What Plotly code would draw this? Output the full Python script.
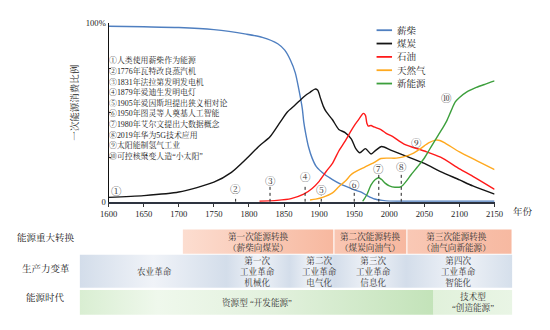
import plotly.graph_objects as go

# ---------------- data ----------------
series_names = ["薪柴", "煤炭", "石油", "天然气", "新能源"]

years_fuelwood = [1600, 1650, 1700, 1750, 1796, 1819, 1841, 1851, 1859, 1866, 1871, 1876, 1878, 1881,
                  1885, 1890, 1896, 1908, 1919, 1930, 1941, 1951, 1960, 1969, 1979, 1990, 2000, 2050, 2100, 2150]
fuelwood = [98.4, 98.1, 97.7, 96.5, 94.0, 92.2, 88.6, 85.0, 79.5, 72.3, 63.2, 52.3, 45.0, 38.0,
            30.6, 24.5, 19.7, 15.3, 12.5, 10.1, 8.2, 6.6, 5.4, 3.4, 1.6, 0.8, 0.4, 0.3, 0.3, 0.3]

years_coal = [1600, 1650, 1700, 1750, 1775, 1796, 1815, 1830, 1845, 1855, 1865, 1873, 1880, 1887, 1894,
              1898, 1902, 1906, 1910, 1919, 1928, 1937, 1946, 1952, 1958, 1966, 1974, 1981, 1989, 2002,
              2021, 2050, 2073, 2100, 2119, 2150]
coal = [2.5, 3.5, 5.5, 11.0, 16.5, 24.0, 31.5, 36.5, 45.0, 50.5, 54.0, 57.0, 59.5, 61.4, 63.2,
        62.5, 58.0, 53.5, 50.5, 46.0, 40.6, 38.8, 35.2, 30.0, 27.5, 29.8, 26.8, 29.0, 31.0, 29.0,
        26.0, 21.5, 17.0, 12.3, 8.9, 4.3]

years_oil = [1815, 1840, 1860, 1878, 1890, 1900, 1910, 1919, 1928, 1937, 1945, 1951, 1957, 1963, 1966,
             1968, 1970, 1974, 1978, 1988, 1995, 2005, 2021, 2050, 2073, 2100, 2119, 2150]
oil = [0.3, 0.8, 1.8, 4.3, 7.5, 11.5, 17.0, 21.6, 28.5, 34.0, 39.5, 43.3, 46.5, 49.6, 48.5,
       44.0, 42.5, 42.8, 42.0, 40.5, 38.5, 36.5, 32.4, 28.5, 25.0, 18.5, 14.3, 7.0]

years_gas = [1887, 1895, 1905, 1919, 1928, 1937, 1945, 1950, 1965, 1978, 1988, 1998, 2010, 2020, 2033,
             2045, 2056, 2066, 2072, 2080, 2100, 2125, 2150]
gas = [1.0, 1.5, 2.5, 5.0, 8.5, 11.5, 15.0, 16.5, 19.5, 22.0, 24.3, 24.5, 24.5, 25.2, 27.0,
       30.0, 33.0, 34.6, 34.4, 32.8, 28.0, 23.0, 18.0]

years_new = [1962, 1968, 1974, 1980, 1985, 1989, 1994, 2000, 2008, 2017, 2024, 2031, 2040, 2049, 2056,
             2063, 2070, 2077, 2082, 2088, 2094, 2100, 2110, 2124, 2137, 2150]
new_energy = [0.3, 4.0, 9.5, 12.5, 13.5, 12.5, 10.5, 9.0, 8.2, 8.6, 11.5, 15.2, 19.5, 24.0, 28.5,
              33.0, 37.5, 42.0, 45.5, 51.0, 56.0, 58.5, 61.5, 64.1, 66.0, 67.8]

# milestones: circled label, year, label height (%), dotted line top (%)
milestone_labels = ["②", "③", "④", "⑤", "⑥", "⑦", "⑧"]
milestone_years = [1781, 1830, 1880, 1903, 1950, 1985, 2017]
milestone_label_vals = [7.1, 11.6, 13.4, 6.3, 9.2, 18.0, 19.0]
milestone_line_tops = [3.4, 8.5, 9.5, 3.6, 6.3, 15.2, 15.8]

free_labels = ["①", "⑨", "⑩"]
free_label_years = [1611, 2039, 2081]
free_label_vals = [5.6, 32.8, 57.8]

event_texts = [
    "①人类使用薪柴作为能源",
    "②1776年瓦特改良蒸汽机",
    "③1831年法拉第发明发电机",
    "④1879年爱迪生发明电灯",
    "⑤1905年爱因斯坦提出狭义相对论",
    "⑥1950年图灵等人奠基人工智能",
    "⑦1980年艾尔文提出大数据概念",
    "⑧2019年华为5G技术应用",
    "⑨太阳能制氢气工业",
    "⑩可控核聚变人造“小太阳”",
]

x_ticks = list(range(1600, 2151, 50))

row_titles = ["能源重大转换", "生产力变革", "能源时代"]

transition_bounds = [1705, 1921, 2025, 2175]
transition_labels = ["第一次能源转换<br>（薪柴向煤炭）", "第二次能源转换<br>（煤炭向油气）",
                     "第三次能源转换<br>（油气向新能源）"]

revolution_bounds = [1559, 1768, 1858, 1922, 2024, 2175]
revolution_labels = ["农业革命", "第一次<br>工业革命<br>机械化", "第二次<br>工业革命<br>电气化",
                     "第三次<br>工业革命<br>信息化", "第四次<br>工业革命<br>智能化"]

era_bounds = [1559, 2063, 2175]
era_labels = ["资源型 “开发能源”", "技术型<br>“创造能源”"]

# ---------------- style / layout constants ----------------
W, H = 550, 330
FONT = "'Liberation Serif', 'Noto Serif CJK SC', 'Noto Sans CJK SC', serif"
colors = ["#4f7fc0", "#151515", "#ff1a1a", "#ffa91f", "#3c9f3c"]
X_PX = (103, 502)      # pixel span of 1600..2150
Y_PX = (203, 19)       # pixel span of 0..100 %
XMIN, XMAX = 1600, 2150


def pxx(p):
    return p / W


def pxy(p):
    return 1 - p / H


yrs_per_px = (XMAX - XMIN) / (X_PX[1] - X_PX[0])
x2_range = [XMIN - X_PX[0] * yrs_per_px, XMIN + (W - X_PX[0]) * yrs_per_px]

fig = go.Figure()

all_years = [years_fuelwood, years_coal, years_oil, years_gas, years_new]
all_vals = [fuelwood, coal, oil, gas, new_energy]
for name, xs, ys, c in zip(series_names, all_years, all_vals, colors):
    fig.add_trace(go.Scatter(x=xs, y=ys, name=name, mode="lines",
                             line=dict(color=c, width=1.4, shape="spline", smoothing=0.7),
                             showlegend=False, hoverinfo="skip"))

for yr, top in zip(milestone_years, milestone_line_tops):
    fig.add_trace(go.Scatter(x=[yr, yr], y=[0, top], mode="lines",
                             line=dict(color="#222", width=1, dash="dot"),
                             showlegend=False, hoverinfo="skip"))

annotations = []


def ann(**kw):
    kw.setdefault("showarrow", False)
    kw.setdefault("xanchor", "center")
    kw.setdefault("yanchor", "middle")
    annotations.append(kw)


for lab, yr, v in list(zip(milestone_labels, milestone_years, milestone_label_vals)) + \
        list(zip(free_labels, free_label_years, free_label_vals)):
    ann(text=lab, x=yr, y=v, xref="x", yref="y", font=dict(family=FONT, size=10.5, color="#333"))

for i, t in enumerate(event_texts):
    ann(text=t, x=pxx(101), y=pxy(57 + i * 10.95), xref="paper", yref="paper", xanchor="left",
        font=dict(family=FONT, size=7.9, color="#222"))

# axis titles
ann(text="一次能源消费比例", x=pxx(68), y=pxy(101), xref="paper", yref="paper", textangle=-90,
    font=dict(family=FONT, size=9.5, color="#222"))
ann(text="年份", x=pxx(531), y=pxy(213), xref="paper", yref="paper",
    font=dict(family=FONT, size=9.5, color="#222"))

# manual legend
shapes = []
for i, (name, c) in enumerate(zip(series_names, colors)):
    yy = pxy(26 + i * 13.75)
    shapes.append(dict(type="line", xref="paper", yref="paper", x0=pxx(380), x1=pxx(396),
                       y0=yy, y1=yy, line=dict(color=c, width=1.8)))
    ann(text=name, x=pxx(399), y=yy, xref="paper", yref="paper", xanchor="left",
        font=dict(family=FONT, size=9.5, color="#222"))

# ---------------- bottom bands ----------------
ROW1 = (231.5, 256.5)
ROW2 = (257.5, 291.5)
ROW3 = (294.0, 319.5)


def band(x0, x1, row, scale):
    fig.add_trace(go.Scatter(x=[x0, x1, x1, x0, x0], y=[row[0], row[0], row[1], row[1], row[0]],
                             xaxis="x2", yaxis="y2", mode="lines", fill="toself",
                             fillgradient=dict(type="horizontal", colorscale=scale),
                             line=dict(width=0), showlegend=False, hoverinfo="skip"))


tr_scales = [[[0, "#fcddd0"], [1, "#f7b89f"]],
             [[0, "#f9c6b2"], [1, "#f7b8a0"]],
             [[0, "#f9c8b5"], [1, "#f7b9a1"]]]
for i in range(3):
    a, b = transition_bounds[i], transition_bounds[i + 1]
    band(a + 0.8, b - 0.8, ROW1, tr_scales[i])
    ann(text=transition_labels[i], x=(a + b) / 2 - (4 if i == 2 else 0),
        y=(ROW1[0] + ROW1[1]) / 2, xref="x2", yref="y2",
        font=dict(family=FONT, size=8.6, color="#333"))

# production-revolution band: lighter in the middle of each period
r0, r1 = revolution_bounds[0], revolution_bounds[-1]
stops = []
for i in range(len(revolution_bounds) - 1):
    a, b = revolution_bounds[i], revolution_bounds[i + 1]
    stops.append([(a - r0) / (r1 - r0), "#d3ddea"])
    stops.append([((a + b) / 2 - r0) / (r1 - r0), "#f0f3f8"])
stops.append([1.0, "#d5dfeb"])
band(r0, r1, ROW2, stops)
rev_centers = [1665, 1812, 1901, 1977, 2099]
for lab, cx in zip(revolution_labels, rev_centers):
    ann(text=lab, x=cx, y=(ROW2[0] + ROW2[1]) / 2, xref="x2", yref="y2",
        font=dict(family=FONT, size=8.6, color="#333"))

era_scales = [[[0, "#d9eed2"], [0.22, "#eff8ec"], [0.55, "#e2f1dd"], [1, "#c3e3b9"]],
              [[0, "#e1f1db"], [1, "#e9f5e5"]]]
era_centers = [1812, 2119]
for i in range(2):
    band(era_bounds[i], era_bounds[i + 1], ROW3, era_scales[i])
    ann(text=era_labels[i], x=era_centers[i], y=(ROW3[0] + ROW3[1]) / 2, xref="x2", yref="y2",
        font=dict(family=FONT, size=8.6, color="#333"))

row_ys = [240, 272, 302]
for t, yy in zip(row_titles, row_ys):
    ann(text=t, x=pxx(38), y=pxy(yy), xref="paper", yref="paper",
        font=dict(family=FONT, size=9.5, color="#222"))

fig.update_layout(
    width=W, height=H, autosize=False,
    margin=dict(l=0, r=0, t=0, b=0, pad=0),
    paper_bgcolor="white", plot_bgcolor="rgba(0,0,0,0)",
    showlegend=False,
    font=dict(family=FONT, size=8.6, color="#222"),
    xaxis=dict(domain=[pxx(X_PX[0]), pxx(X_PX[1])], range=[XMIN, XMAX], anchor="y",
               tickvals=x_ticks, ticktext=[str(t) for t in x_ticks], ticks="outside", ticklen=3,
               tickcolor="#333", showline=True, linecolor="#2e3440", linewidth=1.6,
               showgrid=False, zeroline=False, tickfont=dict(family=FONT, size=8.6, color="#222")),
    yaxis=dict(domain=[pxy(Y_PX[0]), pxy(Y_PX[1])], range=[0, 100], anchor="x",
               tickvals=[0, 25, 50, 75, 100], ticktext=["0", "", "", "", "100%"],
               ticks="inside", ticklen=2, tickcolor="#333", showline=True, linecolor="#111",
               linewidth=1.2, showgrid=False, zeroline=False,
               tickfont=dict(family=FONT, size=8.6, color="#222")),
    xaxis2=dict(domain=[0, 1], range=x2_range, anchor="y2", visible=False, fixedrange=True),
    yaxis2=dict(domain=[0, pxy(228)], range=[330, 228], anchor="x2", visible=False, fixedrange=True),
    annotations=annotations,
    shapes=shapes,
)

fig.write_html("out.html")
